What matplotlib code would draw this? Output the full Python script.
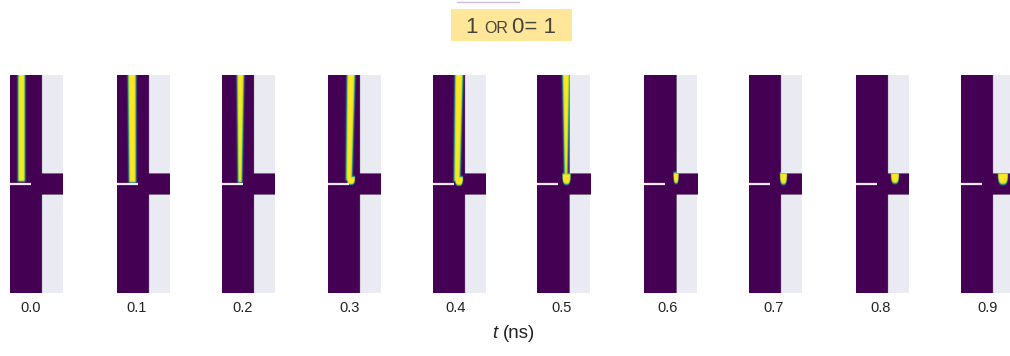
import matplotlib
matplotlib.use('Agg')

import matplotlib.pyplot as plt
import numpy as np
from matplotlib.patches import Rectangle

plt.rcParams.update({
    'font.family': ['Liberation Sans', 'DejaVu Sans'],
})

# time of each snapshot (ns)
times = [0.0, 0.1, 0.2, 0.3, 0.4, 0.5, 0.6, 0.7, 0.8, 0.9]

# yellow stripe inside the waveguide (panel pixels, x from left, y from top)
stripe_left_top = [8, 11, 15, 19, 22, 25, np.nan, np.nan, np.nan, np.nan]
stripe_left_bot = [8, 12, 16, 18, 21, 27, np.nan, np.nan, np.nan, np.nan]
stripe_w_top = [7, 8, 7, 8, 8, 7, 0, 0, 0, 0]
stripe_w_bot = [7, 7, 4, 6, 6, 3, 0, 0, 0, 0]
stripe_end = [107, 108, 108, 106, 107, 104, 0, 0, 0, 0]

# blob near the output notch
blob_x0 = [np.nan, np.nan, np.nan, 19, 22, 25, 29, 31, 35, 37]
blob_x1 = [np.nan, np.nan, np.nan, 27, 30, 33, 34, 38, 43, 47]
blob_y0 = [np.nan, np.nan, np.nan, 102, 102, 99, 98, 98, 98, 98]
blob_y1 = [np.nan, np.nan, np.nan, 110, 111, 110, 109, 110, 109, 110]

# panel geometry (pixels)
PW, PH = 53, 218
GUIDE_W = 32
NOTCH_Y0, NOTCH_Y1 = 99, 120
BAR_Y, BAR_X1 = 109, 21
panel_left = [10, 117, 222, 328, 433, 537, 644, 749, 856, 961]
label_x = [31, 137, 243, 350, 456, 562, 668, 774, 881, 988]
panel_top = 75

FW, FH = 1010, 356
fig = plt.figure(figsize=(FW / 100, FH / 100), dpi=100)

sub = 4
xs = (np.arange(PW * sub) + 0.5) / sub
ys = (np.arange(PH * sub) + 0.5) / sub
X, Y = np.meshgrid(xs, ys)


def soft(d, s=0.4):
    return 1.0 / (1.0 + np.exp(-d / s))


grey = (X > GUIDE_W) & ~((Y >= NOTCH_Y0) & (Y < NOTCH_Y1))

for i, t in enumerate(times):
    field = np.zeros_like(X)
    if not np.isnan(stripe_left_top[i]):
        frac = np.clip(Y / stripe_end[i], 0, 1)
        left = stripe_left_top[i] + (stripe_left_bot[i] - stripe_left_top[i]) * frac
        width = stripe_w_top[i] + (stripe_w_bot[i] - stripe_w_top[i]) * frac
        field = np.maximum(field, soft(X - left) * soft(left + width - X) * soft(stripe_end[i] - Y))
    if not np.isnan(blob_x0[i]):
        cx = 0.5 * (blob_x0[i] + blob_x1[i])
        rx = 0.5 * (blob_x1[i] - blob_x0[i])
        ry = blob_y1[i] - blob_y0[i]
        # flat top, rounded box-like bottom
        r = (np.abs(X - cx) / rx) ** 3 + (np.clip(Y - blob_y0[i], 0, None) / ry) ** 3
        field = np.maximum(field, soft((1 - r) * 3, 0.35) * soft(Y - blob_y0[i]))
    img = np.ma.masked_where(grey, field)

    ax = fig.add_axes([panel_left[i] / FW, 1 - (panel_top + PH) / FH, PW / FW, PH / FH])
    ax.set_facecolor('#EAEAF2')
    ax.imshow(img, cmap='viridis', vmin=0, vmax=1, extent=(0, PW, PH, 0),
              interpolation='antialiased', aspect='auto')
    ax.plot([0, BAR_X1], [BAR_Y, BAR_Y], color='#F3ECF4', lw=1.6, solid_capstyle='butt')
    ax.set_xlim(0, PW)
    ax.set_ylim(PH, 0)
    ax.set_xticks([])
    ax.set_yticks([])
    for sp in ax.spines.values():
        sp.set_visible(False)
    fig.text(label_x[i] / FW, 1 - 308 / FH, f'{t:.1f}', ha='center', va='center',
             fontsize=10.5, color='#222222')

fig.text(495 / FW, 1 - 333 / FH, 't', ha='center', va='center', fontsize=13.5,
         fontstyle='italic', color='#222222')
fig.text(519 / FW, 1 - 333 / FH, '(ns)', ha='center', va='center', fontsize=13.5,
         color='#222222')

# title box
fig.patches.append(Rectangle((451 / FW, 1 - 41 / FH), 121 / FW, 32 / FH,
                             transform=fig.transFigure, facecolor='#FFE699',
                             edgecolor='none'))
fig.add_artist(plt.Line2D([457 / FW, 519 / FW], [1 - 2 / FH, 1 - 2 / FH],
                          color='#CDBFD6', lw=1))
base = 1 - 33 / FH
fig.text(465 / FW, base, '1', fontsize=16, color='#44443a', va='baseline')
fig.text(484 / FW, base, 'OR', fontsize=11.5, color='#44443a', va='baseline')
fig.text(512 / FW, base, '0= 1', fontsize=16, color='#44443a', va='baseline')

fig.savefig('out.png', dpi=100)
plt.close(fig)
